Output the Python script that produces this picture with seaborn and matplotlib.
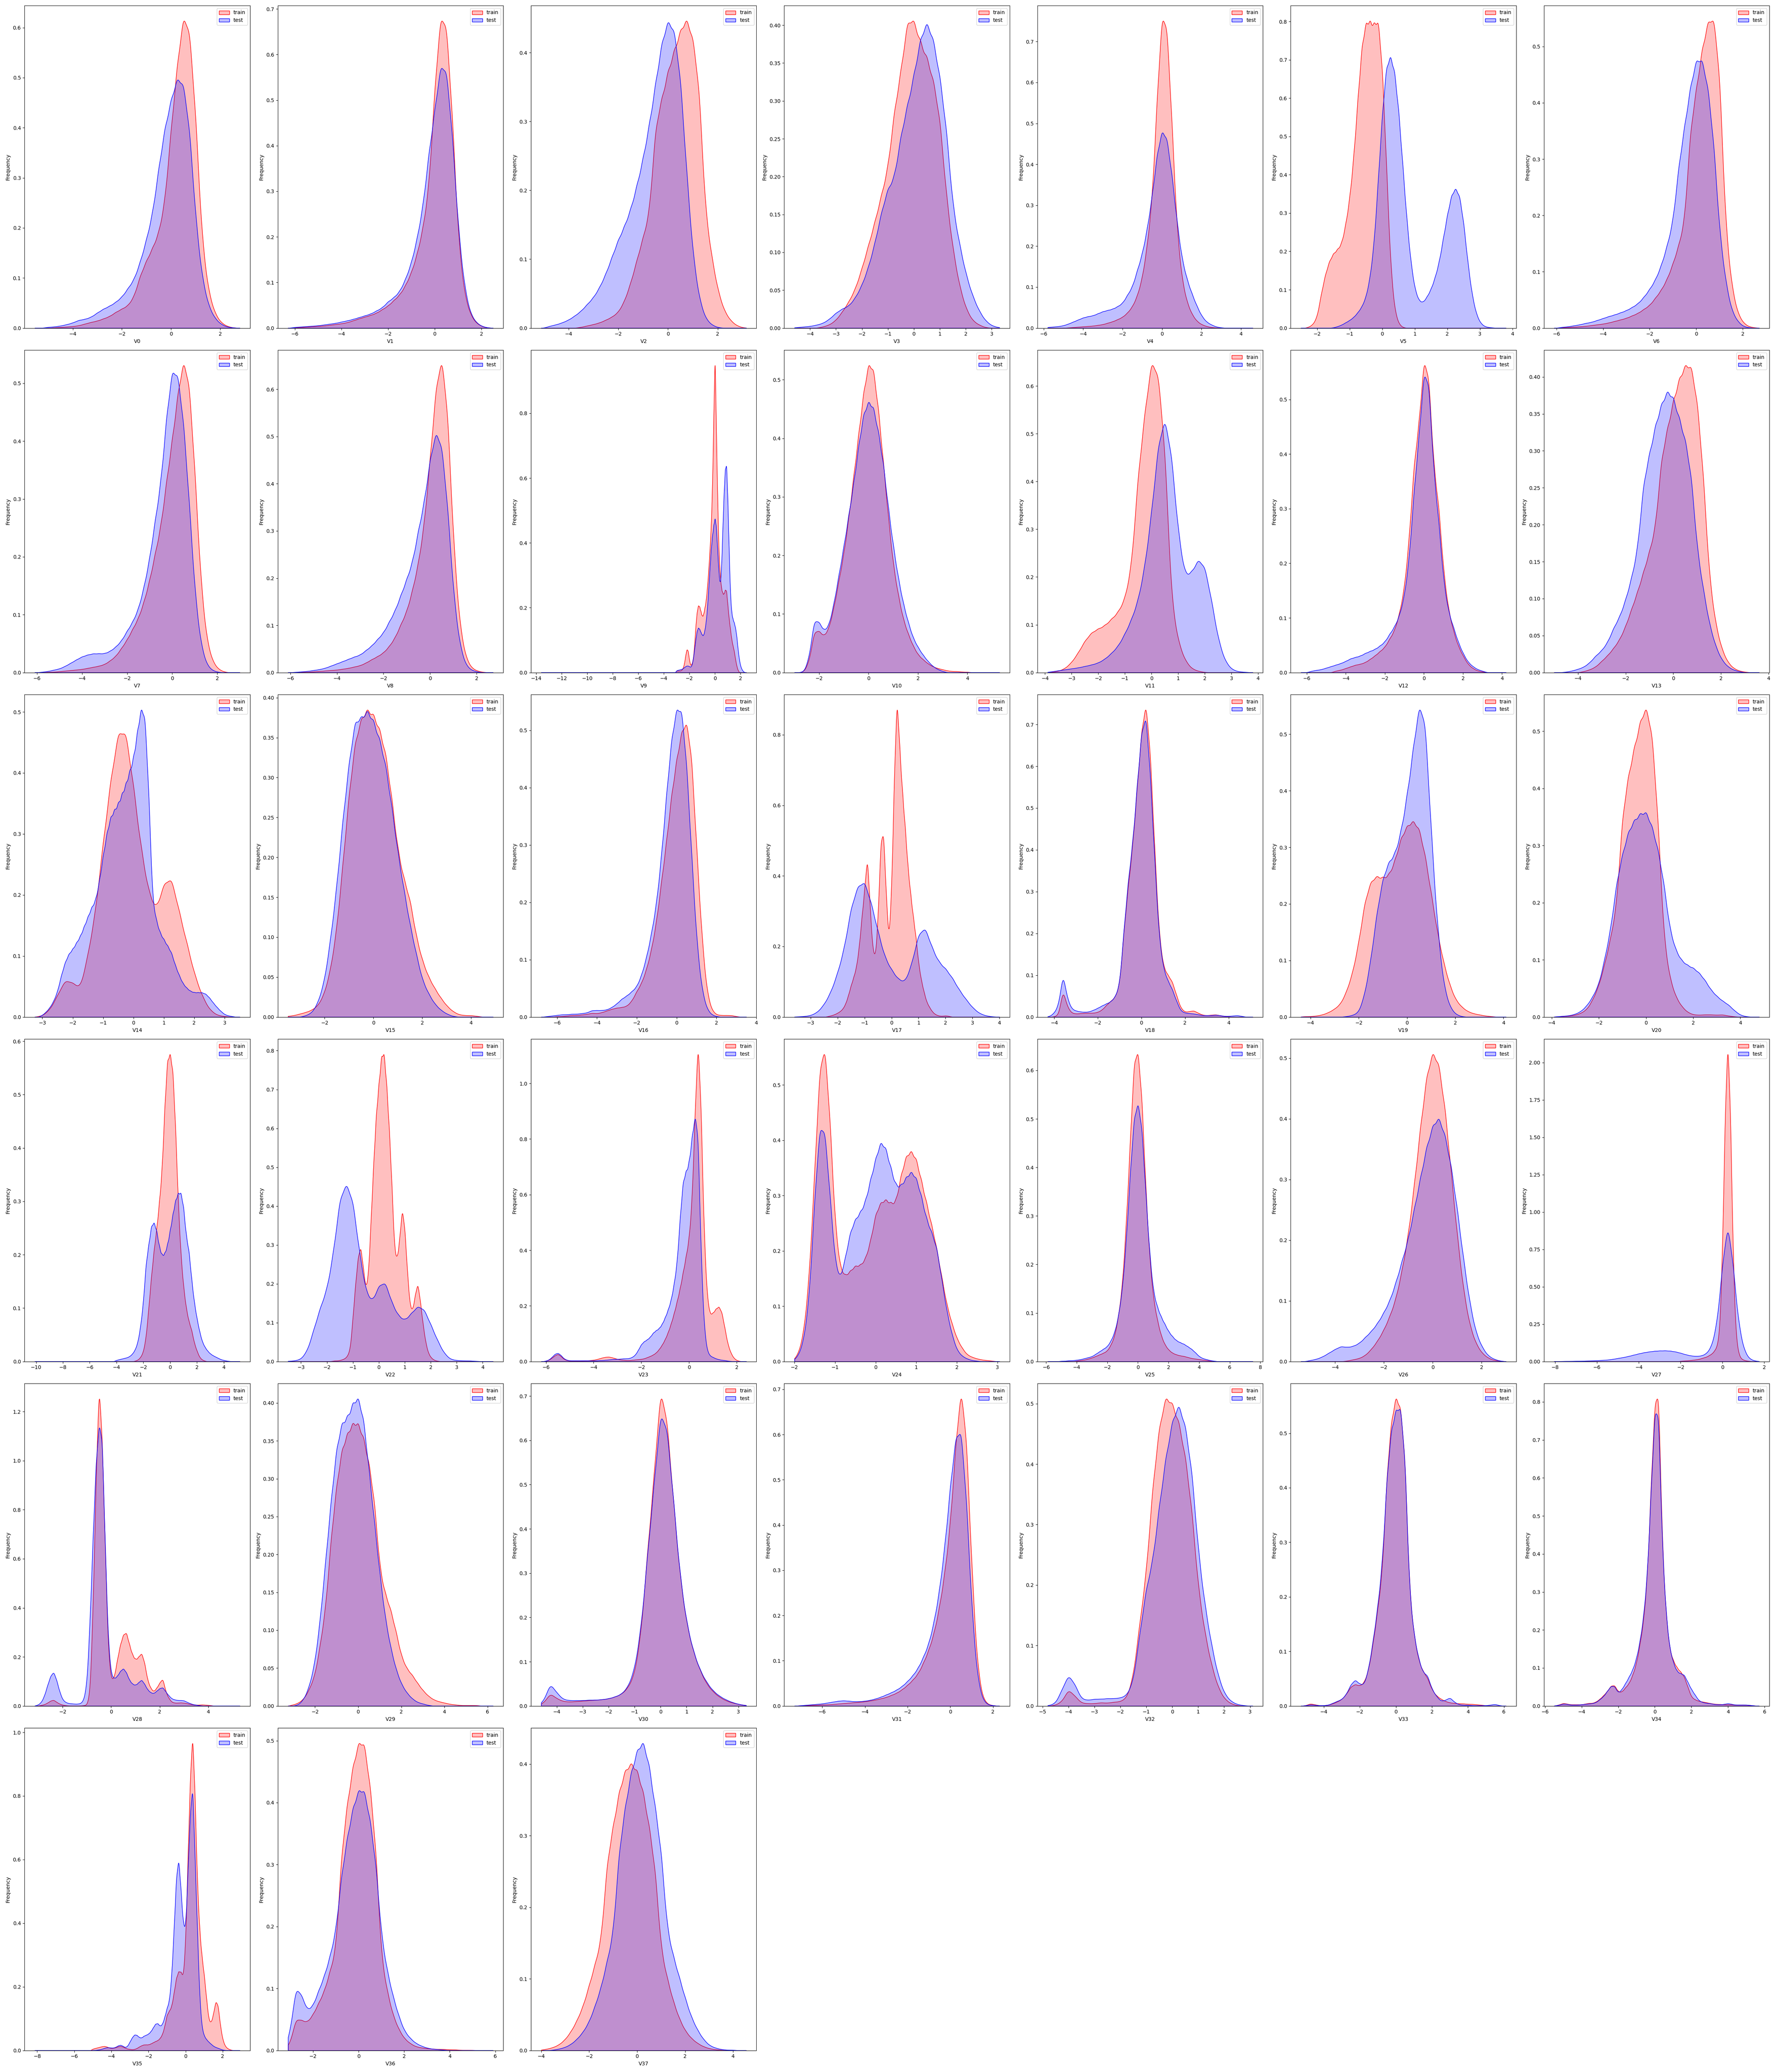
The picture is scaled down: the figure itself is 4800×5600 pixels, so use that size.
import numpy as np
import pandas as pd
import seaborn as sns
import matplotlib.pyplot as plt

# Relative density values read from the reference chart (x100), sampled on a
# regular grid per series.  *_grid = [train_start, train_step, test_start, test_step]
# *_span = data extent (lowest / highest observation) of the feature.
FEATURES = ["V%d" % i for i in range(38)]
LABELS = ["train", "test"]
COLORS = ["Red", "Blue"]

V0_grid = [-5.0, 0.25, -5.0, 0.25]
V0_span = [-5.55, 2.8]
V0_train = [0,0.09,0.18,0.27,0.36,0.54,0.9,1.26,1.53,2,2.5,3.4,4.1,4.8,6.8,11.3,14.4,17.1,20.3,27,42.4,56,67,64,45.6,19.8,8.6,3.6,1.35,0.45,0.09]
V0_test = [0.19,0.28,0.46,0.74,1.1,1.67,1.85,2.3,3.2,4,4.6,5.4,6.5,8.3,10.2,13.9,18.5,24,33.4,41.8,47.5,52.3,51.2,41.8,23.1,11.1,5.1,2.3,0.93,0.28,0.09]

V1_grid = [-6.0, 0.25, -6.0, 0.25]
V1_span = [-6.3, 2.5]
V1_train = [0.09,0.17,0.26,0.35,0.44,0.52,0.7,0.87,1.04,1.3,1.74,2.2,2.6,3,3.5,4.35,5.2,6.5,7.8,10,13,17.4,23.5,33,56.2,73.4,71.3,49.7,21.8,8.7,3.5,1.3,0.44,0.09]
V1_test = [0.19,0.28,0.37,0.46,0.56,0.74,0.93,1.1,1.4,1.67,2,2.4,2.8,3.2,3.9,4.6,6,6.9,8.3,11.1,14.8,20.4,27.8,39.7,49.1,59.6,58.5,43.9,23.1,10.2,3.7,1.4,0.46,0.09]

V2_grid = [-3.5, 0.25, -4.75, 0.25]
V2_span = [-5.1, 3.15]
V2_train = [0.15,0.39,0.62,0.91,1.37,1.9,2.7,4.6,7.7,11.6,15.5,19.4,34.5,39,43.7,47.2,50.6,52.9,49.5,41.4,20.1,12.4,6.6,3.1,1.37,0.46,0.08]
V2_test = [0.3,0.5,0.8,1.2,1.8,2.5,3.5,4.5,6,8,10.5,13,15,17.5,21,25,30,36,42,45.5,44,37,23,11,4.5,1.5,0.5,0.1]

V3_grid = [-3.5, 0.25, -4.5, 0.25]
V3_span = [-4.6, 3.3]
V3_train = [0.18,0.46,1.1,2.3,3.7,5.5,8.3,11.5,14.8,18.5,22.2,30.3,35.6,42.9,42.9,39.7,37.7,34.5,29.3,18.5,11.1,6,2.8,1.1,0.46,0.09]
V3_test = [0.09,0.18,0.26,0.44,0.7,1.3,2.2,2.8,3.2,4.4,6.2,8.8,12.3,16.7,20.2,21.6,27.8,32.1,36.4,41.7,44.4,41.7,36.4,28.9,17.6,12.3,7.9,4.8,2.6,1.1,0.35,0.09]

V4_grid = [-4.75, 0.25, -5.75, 0.25]
V4_span = [-5.8, 4.6]
V4_train = [0.09,0.18,0.28,0.37,0.46,0.55,0.74,0.92,1.3,1.66,2.2,2.8,3.9,5.5,8.3,12.9,21.2,33.1,58.8,80.9,77.7,52.5,25.8,12.9,6.9,3.7,1.84,0.92,0.46,0.18,0.09]
V4_test = [0.2,0.3,0.4,0.6,1,1.5,2,2.5,2.8,3,3.5,4,4.3,4.6,5.2,6,8,10,14,18,24,32,42,48,46,37,26,17,12,8.5,5.5,3,1.5,0.8,0.3,0.1]

V5_grid = [-2.25, 0.125, -1.5, 0.125]
V5_span = [-2.5, 3.8]
V5_train = [0.3,1,3,9,14,17.5,19.5,20.5,22,27,34,45,60,74,80,80,79,81,68,43,17,5,1.2,0.2]
V5_test = [0.1,0.4,0.8,1.4,2,2.8,4,5.5,8,13,22,38,55,67,70,66,56,42,28,17,10,7,6.5,8,10,13,17,23,29,34,36,34,27,17,9,4,1.5,0.5,0.2,0.1]

V6_grid = [-5.75, 0.25, -5.75, 0.25]
V6_span = [-6.1, 2.7]
V6_train = [0.08,0.15,0.23,0.3,0.38,0.54,0.69,0.84,1.07,1.38,1.68,2,2.5,3,3.8,4.6,6.1,7.7,9.9,13,16.8,21.5,40.3,48.2,56.3,62,63.1,51.8,21.5,9.2,3.4,1.13,0.3,0.08]
V6_test = [0.18,0.27,0.46,0.64,0.91,1.1,1.46,1.82,2.2,2.5,2.9,3.3,3.9,4.6,5.8,7.3,9.1,11.8,15.5,20,30.6,38,45.4,50.6,50.6,45.4,34.8,18.2,9.1,3.6,1.4,0.36,0.09]

V7_grid = [-5.5, 0.25, -5.75, 0.25]
V7_span = [-6.1, 3.0]
V7_train = [0.1,0.1,0.19,0.29,0.38,0.48,0.58,0.77,0.96,1.15,1.44,2.1,2.9,4.3,5.8,7.7,9.6,12.5,16.3,21.1,25.9,33.8,41,49.2,55.4,51.3,35.9,17.3,6.7,2.4,0.77,0.19]
V7_test = [0.1,0.21,0.42,0.62,1.04,1.56,2.1,2.6,2.9,3.1,3.1,3.1,3.5,4.2,5.2,6.8,8.3,10.4,14,18.7,25,31.2,41.9,49.7,48.8,41,28.1,13.5,5.2,1.56,0.42,0.1]

V8_grid = [-5.5, 0.25, -5.75, 0.25]
V8_span = [-6.1, 2.7]
V8_train = [0.1,0.1,0.19,0.29,0.38,0.48,0.57,0.76,0.95,1.24,1.52,2.1,2.85,3.5,4.3,5.7,7.6,10.5,13.3,18,23.8,32.3,46.4,61.8,69,56.7,28.5,11.4,3.8,1.14,0.38,0.1]
V8_test = [0.1,0.19,0.29,0.48,0.67,0.96,1.44,1.92,2.4,2.9,3.4,3.8,4.8,5.8,7.2,8.6,11,13.4,16.8,20.2,24,30.8,36.9,46.1,52.3,49.2,35.9,17.3,6.7,1.9,0.58,0.19]

V9_grid = [-3.0, 0.1, -3.0, 0.1]
V9_span = [-13.6, 2.45]
V9_train = [0.5,0.5,0.5,0.5,0.7,1.2,2.5,5,7,6.5, 3.5,2,2.5,4,8,14,18,20,19.5,18,
            16.5,17,19,21,25,30,36,43,55,75, 97,72,52,36,29,25,23.5,23,24.5,24.5,
            20,16,13,10,8,6.5,4,2,0.7,0.1]
V9_test = [0.6,0.7,0.8,0.9,1,1.2,1.5,1.8,2,2, 1.8,1.6,2.2,4,7,10,12.5,13.5,13,12,
           11.2,11,12.5,15,19,25,31,37,41,44, 46.5,44,37,30,26,30,42,53,61,63,
           52,37,24,18,16,15,13.5,11,7,4, 2,1,0.4,0.1]

V10_grid = [-2.6, 0.2, -2.6, 0.2]
V10_span = [-3.0, 5.3]
V10_train = [0.2,2,7,7,6,7.5,11,15.5,20,26,33,40,47,52,51,44,35,26,18,13,9,6.5,4.5,3,2.2,1.5,1,0.7,0.5,0.3,0.2,0.2,0.1,0.1]
V10_test = [0.2,2.5,8.5,8,6.5,7.5,11,15.5,20,25,30,36,41,43,42,38,33,26,20,15,11,8,5.5,4,2.8,1.8,1,0.5,0.2]

V11_grid = [-3.75, 0.25, -3.75, 0.25]
V11_span = [-3.9, 3.8]
V11_train = [0.08,0.33,1,2.5,4.9,7.8,9.8,10.7,11.5,13.1,14.8,18,26,48.8,63.5,76.9,73.3,55,17.4,7.7,3.1,1,0.35,0.07]
V11_test = [0.2,0.4,0.6,0.8,1,1.3,1.6,2,2.8,4,5.5,8,11,15,22,33,47,53,45,29,20,20.5,23.5,22,15,7,2.5,0.7,0.2,0.1]

V12_grid = [-4.5, 0.25, -5.75, 0.25]
V12_span = [-6.3, 4.2]
V12_train = [0.24,0.36,0.6,0.84,1.08,1.2,1.44,1.9,2.4,3,3.6,4.8,6,8.4,12,19.2,30,35.2,44.9,42.2,29,24,14.4,9,6,3.8,2.4,1.2,0.6,0.24,0.12]
V12_test = [0.23,0.35,0.46,0.69,0.92,1.15,1.38,1.7,2.1,2.3,2.5,2.9,3.2,3.5,4,4.6,5.8,6.9,8.6,11.5,17.3,27.6,35.5,45.5,43.7,30,23,13.8,9.2,6.9,4.6,2.9,1.6,0.92,0.46,0.23]

V13_grid = [-3.75, 0.25, -4.5, 0.25]
V13_span = [-5.0, 3.6]
V13_train = [0.17,0.44,0.87,1.74,2.6,3.7,5,7,9.6,12.2,15.2,18.3,21.8,32.4,36.7,41,44.3,46.4,46.4,41,30.2,14.8,7.8,3.9,1.74,0.7,0.26,0.09]
V13_test = [0.09,0.26,0.52,0.86,1.55,2.6,3.4,4.7,6.9,8.6,11.2,14.6,18.9,29.3,33.6,38,41.2,43.4,42.3,39,35.8,30.4,18.9,12.9,7.7,4.3,2.15,1,0.43,0.17]

V14_grid = [-3.0, 0.25, -3.0, 0.125]
V14_span = [-3.25, 3.5]
V14_train = [0.2,1.2,3.5,6,5.5,4.5,10,17,28,38,46,46,37,27,20,17,21.5,22.5,17,12,7,3.5,1.2,0.3,0.1]
V14_test = [0.3,0.8,1.5,2.5,4,6.5,8.5,9.8,10.5,11.5,12.5,14,15.5,17,18,21,25,28.5,31,32,33,34.5,36,38,40,44,48,47,35,18,15,13,12,11,10,8,6.5,5.2,4.5,4,3.8,3.8,3.8,3.6,3,2.2,1.5,0.9,0.4,0.2,0.1]

V15_grid = [-3.5, 0.25, -2.75, 0.25]
V15_span = [-3.5, 4.9]
V15_train = [0.1,0.2,0.4,0.6,0.9,1.5,3,6,11,19,27.5,34,36.8,38,37.3,35.5,32.6,27,20.5,17,14.5,10,7,5,3.6,2.4,1.4,0.7,0.3,0.2,0.2,0.1]
V15_test = [0.2,0.6,2,4.7,10,16.6,25,32,37.5,37.5,38.7,37.3,35,31.8,26.5,20.7,16,11.6,8,4.7,3,1.7,0.9,0.4,0.1]

V16_grid = [-6.0, 0.25, -6.5, 0.25]
V16_span = [-6.8, 3.5]
V16_train = [0.1,0.1,0.2,0.3,0.3,0.4,0.5,0.7,0.6,0.8,1.1,1.4,1.6,1.7,1.9,2.8,4.5,6,8.5,12,17,24,31,39,45,50,52,46,30,15,5,1.3,0.4,0.3,0.3,0.3,0.1]
V16_test = [0.1,0.2,0.3,0.4,0.4,0.5,0.5,0.6,0.7,1.1,1.1,1.1,1.2,1.6,2.2,3,3.5,4.2,5,7,10,14,19,27,37,46,51,51,42,27,13,5,1.5,0.4,0.1]

V17_grid = [-2.4, 0.1, -3.5, 0.25]
V17_span = [-3.6, 4.0]
V17_train = [0.1,0.3,0.5,0.8,1.2,1.7,2.5,4,6.5,9.5, 12,15,21,30,38,49,33,20,17.5,30,
             53,56,36,22,38,72,97,80,67,57, 45,37,30,24,16,11,7.5,4.5,3,1.7,
             0.9,0.5,0.3,0.3,0.4,0.3,0.1]
V17_test = [0.09,0.19,0.46,1.4,3.7,7.4,13,20.4,32.4,38.7,40.2,33.4,25.1,17.6,13.9,11.1,10.2,15.7,24.6,26.6,20.4,16.2,14.3,11.6,8.1,5.3,2.8,1.1,0.37,0.09]

V18_grid = [-4.0, 0.2, -4.2, 0.2]
V18_span = [-4.3, 5.1]
V18_train = [0.1,0.5,7,2.5,1,0.8,0.9,1,1,1,1.2,1.8,3,4,5,8,22,33,43,57,71,79,66,42,21,12.5,10.5,9,5.5,2.2,1.2,1.4,1.6,1,0.5,0.4,0.5,0.6,0.4,0.2,0.1]
V18_test = [0.2,1,3,11,4.5,2,1.5,1.3,1.2,1.3,1.7,2.2,2.8,3.3,3.8,5,8,22,34,43,57,70,75,60,39,20,12,9,7,4,1.5,1,0.9,0.8,0.6,0.4,0.4,0.4,0.5,0.4,0.2,0.2,0.3,0.4,0.2,0]

V19_grid = [-4.25, 0.25, -2.5, 0.25]
V19_span = [-4.4, 4.1]
V19_train = [0.1,0.1,0.2,0.4,0.8,1.4,2.3,4.5,7.8,13,20,23.5,24.4,24,24.5,27,31,33,34,32.7,28,21.4,14.8,9.7,5.8,3.1,1.8,1,0.6,0.4,0.2,0.1]
V19_test = [0.1,0.3,0.8,3.9,9.7,17.5,23.3,26,27.2,31,37,44.7,52.5,50,31,15.5,5.8,1.9,0.5,0.1]

V20_grid = [-3.75, 0.25, -3.75, 0.25]
V20_span = [-3.9, 4.8]
V20_train = [0.08,0.16,0.24,0.4,0.8,1.6,3.6,6.4,10.8,16,22.4,40.7,48.5,54.1,59.3,62.7,57.4,40.3,16,8,4.2,2.2,1,0.48,0.4,0.48,0.48,0.4,0.48,0.24,0.08]
V20_test = [0.09,0.18,0.28,0.55,1.1,2.2,3.9,6.2,11,16.6,25.2,30.5,34.7,36.8,38,38.5,35.7,31.5,25.2,16.6,12.6,10.6,9.7,9.2,8.3,6.9,5.1,3.9,3,2.3,1.2,0.37,0.09]

V21_grid = [-2.6, 0.2, -4.0, 0.2]
V21_span = [-10.1, 5.2]
V21_train = [0.1,0.3,0.8,1.8,4.5,10,16,21,25,30,36,48,57,58,55,44,30,20,14,10,7.5,6,3.5,2,0.8,0.3,0.1]
V21_test = [0.22,0.33,0.44,0.55,0.66,0.88,1.3,2,3.3,6,9.9,16.5,19.5,22.8,23.4,21.9,19.1,17.7,18,19.5,21.9,24.6,27,28.2,28.4,26,20.9,18.7,13.8,9.9,7.2,5,3.3,2.4,1.76,1.3,1,0.77,0.55,0.33,0.22,0.11,0.06]

V22_grid = [-1.8, 0.1, -3.5, 0.25]
V22_span = [-3.4, 4.4]
V22_train = [0.1,0.2,0.2,0.3,0.5,0.8,1.5,3.4,11.4,20,27,30,24,18.5,22.5,37,51.4,64,71.4,79,80,71.4,60,45.7,29,26,31.4,40,34.3,22.9,14.3,13,17.1,20.5,15.4,9.7,5.1,2.3,1.1,0.5,0.2,0.1]
V22_test = [0.1,0.2,0.6,2.9,8.6,14.3,18.9,28.6,43,47,42.3,28.6,18.3,15.5,20,21,15.4,12,10.7,12.6,14.6,13.7,9.7,5.7,2.3,0.6,0.3,0.2,0.2,0.1]

V23_grid = [-6.0, 0.125, -6.0, 0.125]
V23_span = [-6.2, 2.4]
V23_train = [0.2,0.5,1.2,2,2.6,1.8,0.8,0.4, 0.2,0.2,0.2,0.2,0.2,0.3,0.3,0.4,
             0.5,0.7,1,1.3,1.5,1.6,1.4,1.1, 0.8,0.6,0.5,0.4,0.4,0.5,0.6,0.7,
             0.8,1,1.4,1.8,2.3,3,4.2,5.7, 7.6,10,13,16.5,20.6,25,30.5,36,
             42,55,85,112,88,45,23,16, 16.5,18,19,17,11.5,6,3,1.2, 0.4,0.1]
V23_test = [0.2,0.6,1.5,2.6,3,2.2,1,0.5, 0.3,0.3,0.3,0.3,0.3,0.3,0.3,0.3,
            0.3,0.3,0.4,0.4,0.5,0.6,0.7,0.8, 0.8,0.9,1,1,1.1,1.5,2.3,4,
            6,7,7.6,8.5,10,10.8,11.5,13, 15.3,18,21.4,27,34.4,50,63,66,
            68.7,78,86,80,38,13,4,2,1.5,1,0.7,0.5,0.4,0.2,0.1]

V24_grid = [-2.0, 0.125, -2.0, 0.125]
V24_span = [-2.0, 3.05]
V24_train = [0.4,2,6.5,17,35.4,54,58,44,25,17,15.5,16.5,17.5,17.5,18.7,22,27,29,29.6,28.8,29,34,37.5,38.5,37,33,29,25,20.8,15.5,10.4,7,4.2,2.5,1.25,0.8,0.5,0.3,0.2,0.1]
V24_test = [0.3,1.5,4.8,13,30,43,42,30,18,14.8,18.7,23.5,25.8,27,29,33,36.7,40,38.7,35,31.7,31.8,33.3,34.5,33.3,30,25.8,23.5,20.8,15,9.2,5,2.1,1,0.5,0.2,0.1]

V25_grid = [-4.0, 0.25, -5.0, 0.25]
V25_span = [-5.9, 7.5]
V25_train = [0.1,0.2,0.3,0.5,0.7,1,1.3,1.6,2,3.2,5,9,15,27,42,57,59,50,33,20,12,8,5,3.2,2.2,1.6,1.3,1.1,1,0.8,0.6,0.5,0.4,0.3,0.2,0.1]
V25_test = [0.1,0.1,0.2,0.2,0.3,0.4,0.6,0.8,1,1.5,2,2.5,3,4.2,6,9.5,15,25,38,49,52,47,34,22,14,11,9,7.5,6,5,4.2,3.8,3.5,3,2.5,1.8,1,0.6,0.4,0.2,0.1]

V26_grid = [-3.5, 0.25, -5.0, 0.25]
V26_span = [-5.4, 3.0]
V26_train = [0.1,0.3,0.5,1,2,3.3,5,7.2,10,14.5,20,28,37,45,49,47,40,30,20,11.5,6,3,1.4,0.6,0.2,0.1]
V26_test = [0.2,0.4,0.8,1.4,2,2.5,2.3,2.5,3,4,5,6.3,8,10,13,16.5,20,25,30,35,38.5,40,37,32,25,17,10,5,2.5,1,0.4,0.1]

V27_grid = [-2.0, 0.125, -8.0, 0.25]
V27_span = [-8.05, 1.6]
V27_train = [0.3,0.4,0.5,0.6,0.8,1,1.2,1.5,2,2.5,3,4,5,7,10,22,75,160,210,160,70,20,6,2,1,0.5,0.3,0.1]
V27_test = [0.1,0.1,0.2,0.2,0.3,0.3,0.4,0.5,0.6,0.8,1,1.4,2,2.5,3.2,4,4.8,5.5,6,6.4,6.6,6.7,6.5,6,5.2,4.2,3.5,3.2,3.5,5,10,25,60,86,60,25,8,2,0.5,0.1]

V28_grid = [-3.0, 0.125, -3.125, 0.125]
V28_span = [-3.15, 5.3]
V28_train = [0.1,0.3,0.6,1.2,2,2.4,1.5,0.8,0.4,0.2,0.1,0.1,0.1,0.1,0.1,0.2,0.4,5,38,90,128,105,62,22,10,11,18,24,28,29,24,20,18,19,21,17,10,7,5.5,7,9,11,5.5,3,1.5,1.2,1.2,1.3,1.2,1,0.7,0.5,0.4,0.4,0.5,0.4,0.3,0.2]
V28_test = [0.1,0.5,1.5,4,8,11.6,13.4,10,5.5,2.4,1.4,1,0.9,0.8,0.8,1,2.5,9,33,66,95,110,105,62,25,12,10.5,11.5,13.5,14.7,13,10,8.5,8,9,10.3,8.5,6.3,5.2,4.8,5.8,6.8,7.3,5.5,4,2.8,2.4,2.2,2.2,2.1,1.5,1,0.6,0.4,0.2,0.1]

V29_grid = [-3.0, 0.25, -2.75, 0.25]
V29_span = [-3.25, 6.25]
V29_train = [0.18,0.45,1.1,2.5,4.5,9,14.4,24.4,31.8,37.1,39.2,40.8,40.8,38.7,35,29.7,19.8,16.2,14,10.8,7.2,5.4,4.5,3.3,2.25,1.44,0.9,0.63,0.45,0.27,0.18,0.09,0.09,0.09,0.09]
V29_test = [0.2,1,2.8,6,12,20,28,35,38.5,39,41,42,39,32,25,18,12,8,5,3,1.8,1,0.5,0.3,0.1]

V30_grid = [-4.5, 0.25, -4.5, 0.25]
V30_span = [-4.6, 3.3]
V30_train = [0.7,2.8,1.6,1,0.9,1,1.1,1.2,1.3,1.4,1.6,2,2.6,4,7,16,34,50,70,62,44,28,18,12,8,5,3.2,2,1.2,0.7,0.4,0.15]
V30_test = [1.1,5,2.8,1.4,1.2,1.2,1.2,1.3,1.3,1.4,1.6,2,2.6,4.2,8,17,33,48,64,60,44,28,18,12,8,5.3,3.4,2.2,1.4,0.8,0.4,0.15]

V31_grid = [-7.0, 0.25, -7.0, 0.25]
V31_span = [-7.3, 2.3]
V31_train = [0.1,0.1,0.2,0.2,0.3,0.3,0.4,0.5,0.6,0.7,0.8,0.9,1,1.2,1.4,1.7,2,2.5,3,3.8,4.8,6,7.5,10,13,17,23,31,42,60,74,62,32,10,2,0.4,0.1]
V31_test = [0.1,0.2,0.3,0.4,0.5,0.7,0.9,1.1,1.2,1.1,1,1,1.1,1.3,1.6,2,2.5,3,3.6,4.4,5.5,6.8,8.5,11,14,19,26,36,49,60,62,46,22,7,1.5,0.3,0.1]

V32_grid = [-4.5, 0.25, -4.75, 0.25]
V32_span = [-4.8, 3.1]
V32_train = [0.18,0.81,3.1,1.8,0.54,0.45,0.45,0.63,0.54,0.72,0.81,1.5,5.4,15.3,24.3,40.3,50.9,56.7,55.1,51.9,45.6,36,21.6,13.5,7.7,3.6,1.35,0.45,0.09]
V32_test = [0.09,0.46,2.8,5.5,3.7,1.2,1,1.2,1.2,1.3,1.3,1.4,1.85,4.3,12.6,20.4,25,34.5,42.8,49.1,52.3,48.4,40.8,26.8,17.6,10.8,5.5,2.2,0.83,0.28,0.09]

V33_grid = [-5.0, 0.25, -5.0, 0.25]
V33_span = [-5.27, 6.11]
V33_train = [0.09,0.46,0.27,0.09,0.09,0.18,0.46,0.82,1.3,2.3,3.8,4.3,3.9,4.6,7.3,12.7,19.1,26.4,45.4,55.9,60.9,58.8,49.6,22.8,14.1,9.1,6.8,5.6,3.2,2,1.37,0.91,0.64,0.55,0.46,0.46,0.36,0.36,0.27,0.18,0.09]
V33_test = [0.09,0.28,0.19,0.09,0.09,0.19,0.56,0.94,1.3,2.3,4.2,5.2,4.2,4.2,7.5,13.1,19.6,28,44.7,54.1,57.7,58.8,48.9,22.4,14,9.4,6.5,6.1,3.3,1.9,0.94,1.1,1.7,0.75,0.28,0.19,0.19,0.09,0.09,0.09,0.09,0.19,0.37,0.09]

V34_grid = [-5.4, 0.2, -5.4, 0.2]
V34_span = [-5.5, 5.7]
V34_train = [0.09,0.37,0.73,0.55,0.37,0.37,0.37,0.37,0.55,0.73,0.73,1.1,1.83,2.75,3.84,5.3,5.5,3.66,3.66,4.85,5.95,8.2,11.3,16.5,22.9,34.8,58.8,79.8,84,43,24.7,15.1,11.9,10.1,9,7.8,5,2.3,1.65,1.28,1.1,0.92,0.73,0.55,0.46,0.46,0.37,0.37,0.37,0.27,0.27,0.27,0.27,0.18,0.09]
V34_test = [0.1,0.29,0.57,0.48,0.29,0.29,0.29,0.38,0.48,0.57,0.67,0.95,1.7,2.5,3.8,5.2,5.2,3.3,4.3,5.9,7.6,9.5,12.4,17.1,23.8,35.2,56.7,77.3,77.3,41.8,24.7,15.2,11.4,9,8.4,8.2,6.2,4.3,2.85,1.43,0.95,0.76,0.67,0.48,0.38,0.38,0.48,0.67,0.48,0.29,0.29,0.29,0.29,0.19,0.1]

V35_grid = [-5.0, 0.125, -5.0, 0.125]
V35_span = [-8.13, 2.92]
V35_train = [0.5,0.7,0.9,1.1,1.3,1.4,1.2,0.9,0.7, 0.8,1,1.3,1.4,1.2,0.8,0.5,0.4,
             0.3,0.4,0.7,1.2,1.6,1.9,1.9,1.9, 2.2,2.6,3,3.3,4,5.3,8,11.9,
             13,14.5,19,24,26.2,26,24,36, 64,90,106,85,56,40,31,25,
             17,10,9,12,16.5,15,8,3.6, 1.5,0.7,0.3,0.1]
V35_test = [0.1,0.1,0.2,0.3,0.5,0.8,1,1,0.9, 0.9,1.2,1.7,1.9,1.5,1,1.5,3,
            4.5,5.5,5.3,4.5,4.3,5,5.3,5.7, 6.5,7.8,9.2,9.4,8.3,9,11.5,14.7,
            17,26,42,60,67,55,43,42, 62,82,93,67,43,19,8,5,
            3.8,2.9,2.2,1.5,1.1,0.8,0.5,0.2, 0.1]

V36_grid = [-3.0, 0.25, -3.0, 0.25]
V36_span = [-3.1, 5.9]
V36_train = [1.5,6.1,5.7,5.3,6.8,9,11.3,15.1,18.9,37.3,46.6,53.7,58.3,58.3,50.1,38.4,17.4,11.3,6.8,4.1,2.3,1.36,0.75,0.52,0.38,0.3,0.23,0.23,0.15,0.15,0.07,0.07,0.07]
V36_test = [3.5,11.4,9.7,7,7.9,10.6,13.2,16.7,21.1,31,37.5,42.8,46,46,40.7,33.2,20.2,14.1,9.7,6.2,3.5,2.2,1.3,0.8,0.44,0.26,0.18,0.09]

V37_grid = [-4.0, 0.25, -3.5, 0.25]
V37_span = [-3.95, 4.55]
V37_train = [0.08,0.24,0.49,0.94,1.78,3.1,4.9,7.2,10.5,14,17.7,30.5,36.1,41.7,45.1,46.3,45.1,41.7,36.1,29.3,16.1,11.7,8,5.2,3.2,2,1.2,0.65,0.32,0.16,0.08]
V37_test = [0.08,0.24,0.5,0.99,1.8,2.9,4.5,7,9.9,14,18.1,31.2,37.9,43.4,46.7,48.4,44.5,37.9,31.2,18.9,14.8,11.5,8.2,5.3,3.3,1.8,0.82,0.41,0.17,0.08,0.08]


def series_frame(name, which):
    g = globals()
    grid = g[name + "_grid"]
    span = g[name + "_span"]
    vals = np.asarray(g["%s_%s" % (name, which)], dtype=float)
    start, step = (grid[0], grid[1]) if which == "train" else (grid[2], grid[3])
    xs = start + step * np.arange(len(vals))
    x = np.concatenate([[span[0]], xs, [span[1]]])
    w = np.concatenate([[0.0], vals * step, [0.0]])
    return pd.DataFrame({"value": x, "weight": w}), 0.55 * step


fig = plt.figure(figsize=(48, 56), dpi=100)
for i, name in enumerate(FEATURES):
    ax = fig.add_subplot(6, 7, i + 1)
    for which, color, label in zip(["train", "test"], COLORS, LABELS):
        df, bw = series_frame(name, which)
        std = float(np.sqrt(np.cov(df["value"], aweights=df["weight"])))
        sns.kdeplot(data=df, x="value", weights="weight", bw_method=bw / std,
                    cut=0, gridsize=2000, fill=True, color=color,
                    label=label, ax=ax)
    ax.set_xlabel(name)
    ax.set_ylabel("Frequency")
    ax.legend(loc="upper right")

fig.tight_layout()
fig.savefig("out.png", dpi=100)
